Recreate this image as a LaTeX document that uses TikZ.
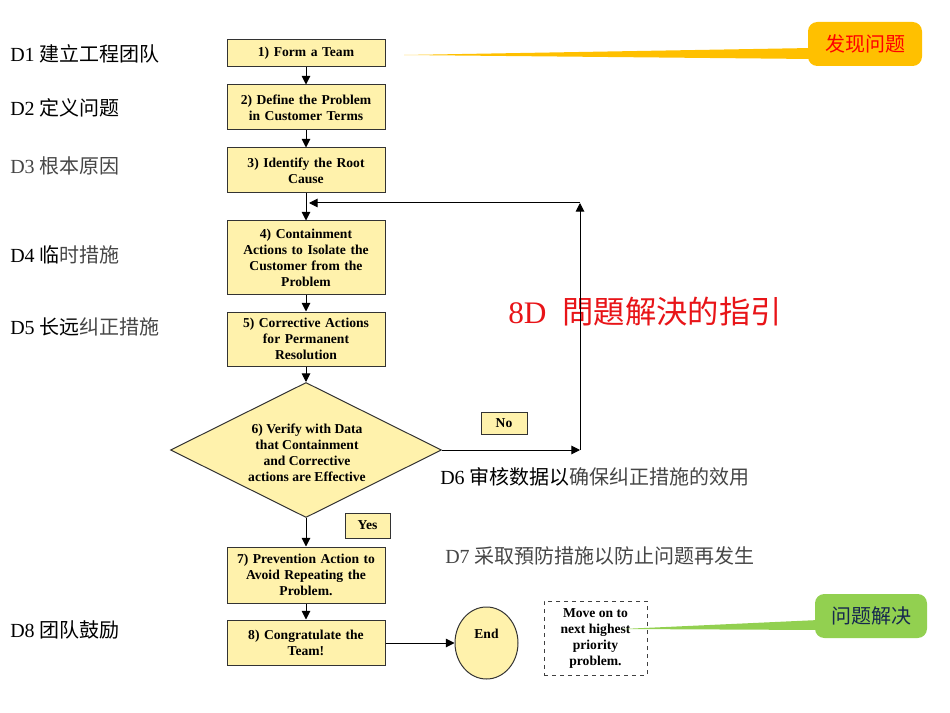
\documentclass[tikz,border=0pt]{standalone}
\usepackage{fontspec}
\setmainfont{Liberation Serif}
\newfontfamily\cjk{Noto Sans CJK SC}
\usetikzlibrary{arrows.meta,shapes.geometric,calc}
\definecolor{boxfill}{RGB}{255,242,172}
\definecolor{corange}{RGB}{255,192,0}
\definecolor{cgreen}{RGB}{146,208,80}
\definecolor{cnavy}{RGB}{22,40,78}
\definecolor{ctitle}{RGB}{232,20,24}
\definecolor{thin}{RGB}{70,70,70}
\begin{document}
\begin{tikzpicture}[x=0.75pt,y=-0.75pt,
  boxfont/.style={font=\fontsize{10.2}{12}\selectfont\bfseries},
  stepbox/.style={draw=black!80, line width=0.75pt, fill=boxfill, minimum width=118.5pt,
    align=center, boxfont, inner sep=1pt, text width=114pt},
  lbl/.style={draw=black!80, line width=0.75pt, fill=boxfill, inner sep=0pt, boxfont},
  arr/.style={-{Triangle[length=6.5pt,width=6.5pt]}, line width=0.75pt},
  dlabel/.style={anchor=west, font=\fontsize{15}{18}\selectfont, inner sep=0pt},
  callout/.style={rounded corners=7pt, minimum height=33pt, inner sep=0pt,
    font=\cjk\fontsize{15}{18}\selectfont}
]
\useasboundingbox (0,0) rectangle (950,713);

% left labels
\node[dlabel] (l1) at (10,54) {D1 {\cjk 建立工程团队}};
\node[dlabel] (l2) at (10,108) {D2 {\cjk 定义问题}};
\node[dlabel, text=thin] (l3) at (10,166) {D3 {\cjk 根本原因}};
\node[dlabel] (l4) at (10,255) {D4 {\cjk 临}{\cjk\color{thin}时措施}};
\node[dlabel] (l5) at (10,327) {D5 {\cjk 长远}{\cjk\color{thin}纠正措施}};
\node[dlabel] (l8) at (10,630) {D8 {\cjk 团队鼓励}};
\node[dlabel] (l6) at (440,477) {D6 {\cjk 审核数据以}{\cjk\color{thin}确保纠正措施的效用}};
\node[dlabel, text=thin] (l7) at (445,556) {D7 {\cjk 采取預防措施以防止问题再发生}};

% title
\node[anchor=west, inner sep=0pt, text=ctitle, font=\fontsize{23.5}{28}\selectfont] (title) at (508,312)
  {8D\hspace{12pt}{\cjk 問題解決的指引}};

% flow boxes
\node[stepbox, minimum height=20.25pt] (b1) at (306,53.5) {1) Form a Team};
\node[stepbox, minimum height=33.75pt] (b2) at (306,107.5) {2) Define the Problem\\in Customer Terms};
\node[stepbox, minimum height=33.75pt] (b3) at (306,170.5) {3) Identify the Root\\Cause};
\node[stepbox, minimum height=54.75pt] (b4) at (306,257.5) {4) Containment\\Actions to Isolate the\\Customer from the\\Problem};
\node[stepbox, minimum height=40.5pt] (b5) at (306,339) {5) Corrective Actions\\for Permanent\\Resolution};
\node[diamond, draw=black!80, line width=0.75pt, fill=boxfill, inner sep=0pt,
  minimum width=203.25pt, minimum height=101.25pt] (d6) at (306,450) {};
\node[align=center, boxfont] (d6t) at (307,453)
  {6) Verify with Data\\that Containment\\and Corrective\\actions are Effective};
\node[stepbox, minimum height=42pt] (b7) at (306,575) {7) Prevention Action to\\Avoid Repeating the\\Problem.};
\node[stepbox, minimum height=33.75pt] (b8) at (306,642.5) {8) Congratulate the\\Team!};
\node[ellipse, draw=black!80, line width=0.75pt, fill=boxfill, minimum width=47.25pt,
  minimum height=54pt, inner sep=0pt] (end) at (486.5,643) {};
\node[boxfont] (endt) at (486.5,634) {End};
\node[draw=black!75, dashed, line width=0.75pt, fill=white, minimum width=77.25pt,
  minimum height=55.5pt, align=center, inner sep=0pt, boxfont] (move) at (595.5,638)
  {Move on to\\next highest\\priority\\problem.};

\node[lbl, minimum width=34.5pt, minimum height=16.5pt] (no) at (504,423) {No};
\node[lbl, minimum width=33.75pt, minimum height=18.75pt] (yes) at (367.5,525.5) {Yes};

% connectors
\draw[arr] (b1) -- (b2);
\draw[arr] (b2) -- (b3);
\draw[arr] (b3) -- (b4);
\draw[arr] (b4) -- (b5);
\draw[arr] (b5) -- (d6);
\draw[arr] (d6) -- (b7);
\draw[arr] (b7) -- (b8);
\draw[arr] (b8.east |- end.west) -- (end.west);
\coordinate (c1) at (580,450);
\coordinate (c2) at (580,203);
\coordinate (c3) at (309,203);
\draw[arr] (d6.east) -- (c1);
\draw[arr] (c1) -- (c2);
\draw[arr] (c2) -- (c3);

% callouts
\node[callout, fill=corange, text=red, minimum width=85.5pt] (find) at (865,44) {发现问题};
\coordinate (tip1) at (404,55);
\fill[corange] ($(find.west)+(4,4)$) -- (tip1) -- ($(find.west)+(4,15)$) -- cycle;
\node[callout, fill=cgreen, text=cnavy, minimum width=84pt] (solve) at (871,616) {问题解决};
\coordinate (tip2) at (622,629);
\fill[cgreen] ($(solve.west)+(4,4)$) -- (tip2) -- ($(solve.west)+(4,14)$) -- cycle;
\end{tikzpicture}
\end{document}
